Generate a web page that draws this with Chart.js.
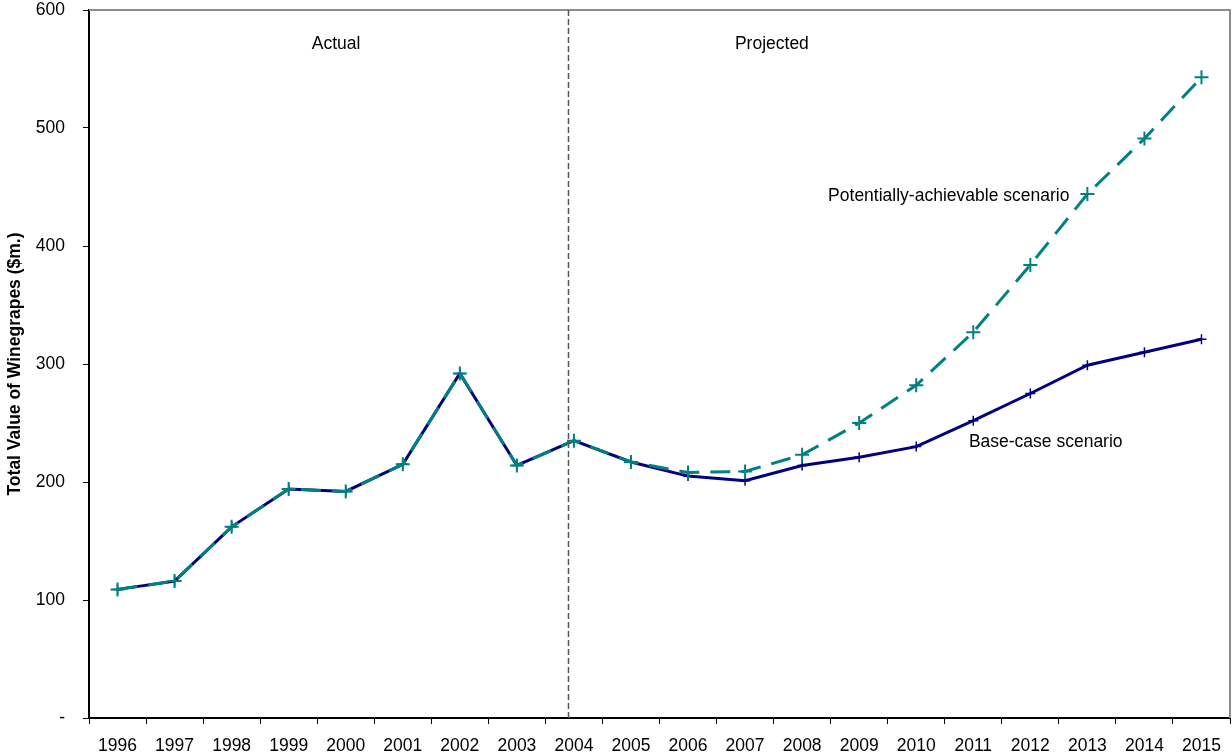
<!DOCTYPE html>
<html>
<head>
<meta charset="utf-8">
<script src="https://cdn.jsdelivr.net/npm/chart.js@4/dist/chart.umd.min.js"></script>
<style>
  html, body { margin: 0; padding: 0; background: #fff; overflow: hidden; }
  #chart { display: block; }
</style>
</head>
<body>
<canvas id="chart" width="1232" height="753"></canvas>
<script>
// Years on the category axis
const years = ['1996','1997','1998','1999','2000','2001','2002','2003','2004','2005',
               '2006','2007','2008','2009','2010','2011','2012','2013','2014','2015'];

// Total value of winegrapes, $m.
const baseCase = [109, 116, 162, 194, 192, 215, 292, 214, 235, 217,
                  205, 201, 214, 221, 230, 252, 275, 299, 310, 321];
const potentiallyAchievable = [109, 116, 162, 194, 192, 215, 292, 214, 235, 217,
                               208, 209, 223, 250, 282, 327, 384, 444, 491, 543];

const yTicks = [0, 100, 200, 300, 400, 500, 600];

// Text placed inside the plot: [label, category position, value]
const notes = [
  ['Actual', 3.83, 571],
  ['Projected', 11.47, 571],
  ['Potentially-achievable scenario', 14.57, 442],
  ['Base-case scenario', 16.27, 234]
];
const splitPosition = 7.9; // boundary between actual and projected years

const FONT = '"Liberation Sans", Arial, sans-serif';
const FONT_SIZE = 17.5;

const overlay = {
  id: 'overlay',
  afterDraw(chart) {
    const { ctx, chartArea: a, scales: { x, y } } = chart;
    const step = x.getPixelForValue(1) - x.getPixelForValue(0);
    const px = v => x.getPixelForValue(0) + v * step;

    ctx.save();
    // grey frame on top and right
    ctx.strokeStyle = '#8c8c8c';
    ctx.lineWidth = 2;
    ctx.beginPath();
    ctx.moveTo(a.left, a.top);
    ctx.lineTo(a.right, a.top);
    ctx.lineTo(a.right, a.bottom);
    ctx.stroke();

    // divider between actual and projected
    ctx.strokeStyle = '#555';
    ctx.lineWidth = 1.5;
    ctx.setLineDash([6, 3]);
    const sx = Math.round(px(splitPosition)) + 0.5;
    ctx.beginPath();
    ctx.moveTo(sx, a.top);
    ctx.lineTo(sx, a.bottom);
    ctx.stroke();
    ctx.setLineDash([]);

    // labels
    ctx.fillStyle = '#000';
    ctx.font = FONT_SIZE + 'px ' + FONT;
    ctx.textAlign = 'center';
    ctx.textBaseline = 'middle';
    notes.forEach(([t, cx, v]) => ctx.fillText(t, px(cx), y.getPixelForValue(v)));
    ctx.restore();
  }
};

new Chart(document.getElementById('chart'), {
  type: 'line',
  data: {
    labels: years,
    datasets: [
      {
        label: 'Base-case scenario',
        data: baseCase,
        borderColor: '#000080',
        backgroundColor: '#000080',
        borderWidth: 3,
        pointStyle: 'cross',
        pointRadius: 5,
        pointBorderWidth: 1.5,
        pointHoverRadius: 5,
        tension: 0,
        order: 2
      },
      {
        label: 'Potentially-achievable scenario',
        data: potentiallyAchievable,
        borderColor: '#008080',
        backgroundColor: '#008080',
        borderWidth: 3,
        borderDash: [20, 11],
        pointStyle: 'cross',
        pointRadius: 7,
        pointBorderWidth: 2,
        pointHoverRadius: 7,
        tension: 0,
        order: 1
      }
    ]
  },
  options: {
    responsive: false,
    animation: false,
    events: [],
    layout: { autoPadding: false, padding: { left: 0, top: 10, right: 2, bottom: 0 } },
    plugins: { legend: { display: false }, tooltip: { enabled: false } },
    scales: {
      x: {
        type: 'category',
        offset: true,
        grid: {
          offset: true,
          drawOnChartArea: false,
          drawTicks: true,
          tickLength: 6,
          color: '#000',
          lineWidth: 1
        },
        border: { color: '#000', width: 2 },
        ticks: {
          color: '#000',
          font: { family: FONT, size: FONT_SIZE },
          padding: 12,
          maxRotation: 0,
          autoSkip: false
        },
        afterFit(scale) {
          scale.height = 35;
          scale.paddingLeft = 0;
          scale.paddingRight = 0;
        }
      },
      y: {
        min: 0,
        max: 600,
        afterBuildTicks(scale) { scale.ticks = yTicks.map(v => ({ value: v })); },
        grid: {
          drawOnChartArea: false,
          drawTicks: true,
          tickLength: 6,
          color: '#000',
          lineWidth: 1
        },
        border: { color: '#000', width: 2 },
        ticks: {
          color: '#000',
          font: { family: FONT, size: FONT_SIZE },
          padding: 18,
          callback: v => (v === 0 ? '-' : v)
        },
        title: {
          display: true,
          text: 'Total Value of Winegrapes ($m.)',
          color: '#000',
          font: { family: FONT, size: 17.5, weight: 'bold' },
          padding: { top: 5, bottom: 0 }
        },
        afterFit(scale) {
          scale.width = 89;
          scale.paddingTop = 0;
          scale.paddingBottom = 0;
        }
      }
    }
  },
  plugins: [overlay]
});
</script>
</body>
</html>
